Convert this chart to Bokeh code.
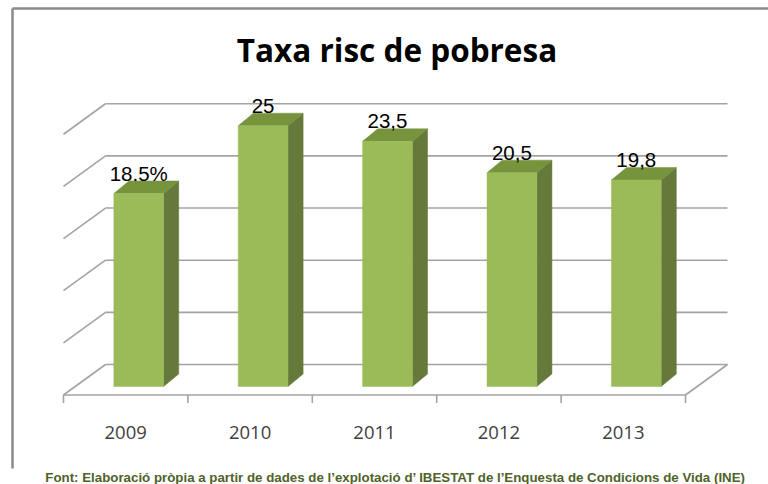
from bokeh.plotting import figure
from bokeh.models import Range1d
from bokeh.core.properties import value
from bokeh.embed import file_html
from bokeh.resources import INLINE

# ---- data ----
YEARS = ["2009", "2010", "2011", "2012", "2013"]
VALUES = [18.5, 25.0, 23.5, 20.5, 19.8]
LABELS = ["18.5%", "25", "23,5", "20,5", "19,8"]
GRID = [0, 5, 10, 15, 20, 25]
TITLE = "Taxa risc de pobresa"
FOOTER = "Font: Elaboració pròpia a partir de dades de l\u2019explotació d\u2019 IBESTAT de l\u2019Enquesta de Condicions de Vida (INE)"

# ---- geometry (pixel scale of the oblique projection) ----
W, H = 768, 484
PXX, PXY = 124.4, 10.43          # px per category, px per value unit
OX, OY = 63, 394.5               # px of the floor front-left corner
DX, DY = 42 / PXX, 30.5 / PXY    # full depth vector in data units
F0X, F0Y = 0.31, 0.28            # bar front plane
F1X, F1Y = 0.67, 0.69            # bar back plane
HALF = 0.2
N = len(YEARS)

def dx_(px):
    return px / PXX

def dy_(px):
    return px / PXY

p = figure(width=W, height=H, output_backend="svg", toolbar_location=None,
           x_range=Range1d(-OX / PXX, (W - OX) / PXX),
           y_range=Range1d(-(H - OY) / PXY, OY / PXY),
           x_axis_location=None, y_axis_location=None,
           min_border=0, outline_line_color=None,
           background_fill_color="white", border_fill_color="white")
p.grid.visible = False

GC = "#a3a3a3"
# back wall gridlines and left wall diagonals
p.segment(x0=[DX] * len(GRID), y0=[g + DY for g in GRID],
          x1=[N + DX] * len(GRID), y1=[g + DY for g in GRID],
          line_color=GC, line_width=1.6)
p.segment(x0=[0] * len(GRID), y0=GRID,
          x1=[DX] * len(GRID), y1=[g + DY for g in GRID],
          line_color=GC, line_width=1.6)
# floor front and right edges
p.segment(x0=[0, N], y0=[0, 0], x1=[N, N + DX], y1=[0, DY],
          line_color=GC, line_width=1.6)
# ticks
p.segment(x0=list(range(N + 1)), y0=[0] * (N + 1),
          x1=list(range(N + 1)), y1=[-dy_(8)] * (N + 1),
          line_color=GC, line_width=1.6)

# bars
fx, fy, sx, sy, tx, ty = [], [], [], [], [], []
for i, v in enumerate(VALUES):
    c = i + 0.5
    l, r = c - HALF, c + HALF
    fx.append([l + F0X * DX, r + F0X * DX, r + F0X * DX, l + F0X * DX])
    fy.append([F0Y * DY, F0Y * DY, v + F0Y * DY, v + F0Y * DY])
    sx.append([r + F0X * DX, r + F1X * DX, r + F1X * DX, r + F0X * DX])
    sy.append([F0Y * DY, F1Y * DY, v + F1Y * DY, v + F0Y * DY])
    tx.append([l + F0X * DX, r + F0X * DX, r + F1X * DX, l + F1X * DX])
    ty.append([v + F0Y * DY, v + F0Y * DY, v + F1Y * DY, v + F1Y * DY])
p.patches(sx, sy, fill_color="#65793a", line_color="#65793a", line_width=0.5)
p.patches(tx, ty, fill_color="#77933c", line_color="#77933c", line_width=0.5)
p.patches(fx, fy, fill_color="#9bbb59", line_color="#9bbb59", line_width=0.5)

# data labels (glyph centre about 7.5 px above the bar's back top edge)
p.text(x=[i + 0.5 + F0X * DX for i in range(N)],
       y=[v + F1Y * DY + dy_(7.5) for v in VALUES], text=LABELS,
       text_font=value("Liberation Sans"), text_font_size="20.5px",
       text_color="black", text_align="center", text_baseline="middle")

# category labels
p.text(x=[i + 0.5 for i in range(N)], y=[dy_(OY - 432)] * N, text=YEARS,
       text_font=value("Open Sans"), text_font_size="18.5px",
       text_color="#404040", text_align="center", text_baseline="middle")

# title
p.text(x=[dx_(396.5 - OX)], y=[dy_(OY - 49)], text=[TITLE],
       text_font=value("Open Sans"), text_font_style="bold",
       text_font_size="31.5px", text_color="black",
       text_align="center", text_baseline="middle")

# chart border (top and left)
BX = dx_(12 - OX)
BYT = dy_(OY - 8)
BYB = dy_(OY - 468)
p.segment(x0=[BX, BX], y0=[BYT, BYT], x1=[(W - OX) / PXX, BX], y1=[BYT, BYB],
          line_color="#8a8a8a", line_width=2.5)

# footer
p.text(x=[dx_(395 - OX)], y=[dy_(OY - 477)], text=[FOOTER],
       text_font=value("Liberation Sans"), text_font_style="bold",
       text_font_size="13.3px", text_color="#4f6228",
       text_align="center", text_baseline="middle")

open("out.html", "w").write(file_html(p, INLINE))
